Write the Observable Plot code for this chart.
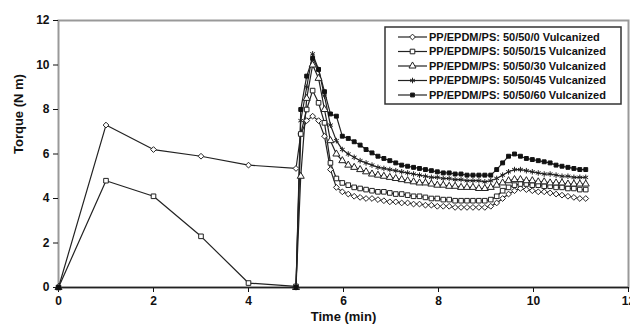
<!DOCTYPE html>
<html>
<head>
<meta charset="utf-8">
<script src="https://cdn.jsdelivr.net/npm/d3@7"></script>
<script src="https://cdn.jsdelivr.net/npm/@observablehq/plot@0.6"></script>
<style>
  html, body { margin: 0; padding: 0; background: #fff; }
  #chart svg { display: block; }
</style>
</head>
<body>
<div id="chart"></div>
<script>
const seriesNames = [
  "PP/EPDM/PS: 50/50/0 Vulcanized",
  "PP/EPDM/PS: 50/50/15 Vulcanized",
  "PP/EPDM/PS: 50/50/30 Vulcanized",
  "PP/EPDM/PS: 50/50/45 Vulcanized",
  "PP/EPDM/PS: 50/50/60 Vulcanized"
];
const xTicks = [0, 2, 4, 6, 8, 10, 12];
const yTicks = [0, 2, 4, 6, 8, 10, 12];

// mixing stage (min 0-5)
const preTimes = [0, 1, 2, 3, 4, 5];
const pre0  = [0, 7.3, 6.2, 5.9, 5.5, 5.35];
const pre15 = [0, 4.8, 4.1, 2.3, 0.2, 0.05];
const pre30 = [0, null, null, null, null, 0];
const pre45 = [0, null, null, null, null, 0];
const pre60 = [0, null, null, null, null, 0];

// vulcanization stage (after 5 min)
const tailTimes = [5.1, 5.225, 5.35, 5.475, 5.6, 5.725, 5.85, 5.975, 6.1, 6.225,
  6.35, 6.475, 6.6, 6.725, 6.85, 6.975, 7.1, 7.225, 7.35, 7.475,
  7.6, 7.725, 7.85, 7.975, 8.1, 8.225, 8.35, 8.475, 8.6, 8.725,
  8.85, 8.975, 9.1, 9.225, 9.35, 9.475, 9.6, 9.725, 9.85, 9.975,
  10.1, 10.225, 10.35, 10.475, 10.6, 10.725, 10.85, 10.975, 11.1];
const tail0 = [6.9, 7.5, 7.7, 7.5, 6.8, 5.3, 4.5, 4.3, 4.2, 4.1,
  4.05, 4.0, 4.0, 3.95, 3.9, 3.85, 3.85, 3.8, 3.8, 3.75,
  3.75, 3.7, 3.7, 3.65, 3.65, 3.65, 3.6, 3.6, 3.6, 3.6,
  3.6, 3.6, 3.65, 3.8, 4.0, 4.2, 4.35, 4.45, 4.4, 4.35,
  4.3, 4.3, 4.25, 4.2, 4.15, 4.1, 4.05, 4.0, 4.0];
const tail15 = [6.9, 8.0, 8.85, 8.3, 7.4, 5.6, 4.9, 4.7, 4.6, 4.5,
  4.45, 4.4, 4.35, 4.3, 4.3, 4.25, 4.2, 4.2, 4.15, 4.1,
  4.1, 4.05, 4.0, 4.0, 3.95, 3.95, 3.9, 3.9, 3.9, 3.9,
  3.9, 3.9, 3.95, 4.1, 4.35, 4.5, 4.6, 4.65, 4.65, 4.6,
  4.6, 4.55, 4.55, 4.5, 4.5, 4.45, 4.45, 4.4, 4.4];
const tail30 = [5.0, 8.5, 10.0, 9.4, 8.0, 6.6, 6.0, 5.7, 5.5, 5.4,
  5.3, 5.2, 5.1, 5.05, 5.0, 4.95, 4.9, 4.85, 4.8, 4.75,
  4.7, 4.7, 4.65, 4.6, 4.6, 4.55, 4.55, 4.5, 4.5, 4.5,
  4.45, 4.45, 4.5, 4.6, 4.7, 4.8, 4.85, 4.85, 4.8, 4.8,
  4.75, 4.75, 4.7, 4.7, 4.7, 4.65, 4.65, 4.65, 4.65];
const tail45 = [7.5, 9.0, 10.5, 9.8, 8.6, 7.3, 6.6, 6.2, 6.0, 5.85,
  5.7, 5.6, 5.5, 5.4, 5.35, 5.3, 5.25, 5.2, 5.15, 5.1,
  5.05, 5.0, 4.95, 4.95, 4.9, 4.9, 4.85, 4.85, 4.8, 4.8,
  4.8, 4.75, 4.8, 4.9, 5.05, 5.2, 5.3, 5.3, 5.25, 5.2,
  5.15, 5.1, 5.1, 5.05, 5.0, 5.0, 4.95, 4.95, 4.95];
const tail60 = [8.0, 9.5, 10.3, 9.8, 8.8, 7.8, 7.7, 6.8, 6.7, 6.55,
  6.4, 6.2, 6.05, 5.9, 5.8, 5.7, 5.6, 5.5, 5.45, 5.4,
  5.35, 5.3, 5.25, 5.2, 5.15, 5.15, 5.1, 5.1, 5.05, 5.05,
  5.05, 5.05, 5.05, 5.3, 5.6, 5.9, 6.0, 5.9, 5.8, 5.75,
  5.7, 5.65, 5.6, 5.5, 5.45, 5.4, 5.35, 5.3, 5.3];

const preVals = [pre0, pre15, pre30, pre45, pre60];
const tailVals = [tail0, tail15, tail30, tail45, tail60];
const symbols = ["diamond2", "square", "triangle", "asterisk", "square"];
const fills = ["white", "white", "white", "white", "black"];

const rows = [];
seriesNames.forEach((name, i) => {
  preTimes.forEach((t, j) => {
    if (preVals[i][j] != null) rows.push({series: name, idx: i, time: t, torque: preVals[i][j]});
  });
  tailTimes.forEach((t, j) => {
    rows.push({series: name, idx: i, time: t, torque: tailVals[i][j]});
  });
});

const font = "'Liberation Sans', Arial, sans-serif";

const chart = Plot.plot({
  width: 630,
  height: 331,
  marginLeft: 58,
  marginRight: 2,
  marginTop: 20,
  marginBottom: 44,
  style: {fontFamily: font, fontSize: "12px", fontWeight: "bold", background: "white", color: "#111"},
  x: {domain: [0, 12], label: null},
  y: {domain: [0, 12], label: null},
  symbol: {domain: seriesNames, range: symbols},
  marks: [
    Plot.frame({stroke: "#999", strokeWidth: 2}),
    Plot.axisX({ticks: xTicks, tickSize: 5, tickPadding: 4, label: null, fontSize: 12}),
    Plot.axisY({ticks: yTicks, tickSize: 5, tickPadding: 4, label: null, fontSize: 12}),
    Plot.ruleY([0], {stroke: "#222", strokeWidth: 1.5}),
    Plot.line(rows, {x: "time", y: "torque", z: "series", stroke: "#222", strokeWidth: 1.2}),
    Plot.dot(rows.filter(d => d.idx < 4), {x: "time", y: "torque", symbol: "series", r: 2.6, fill: "white", stroke: "#222", strokeWidth: 1}),
    Plot.dot(rows.filter(d => d.idx === 4), {x: "time", y: "torque", symbol: "series", r: 2.2, fill: "#111", stroke: "#111", strokeWidth: 1}),
    Plot.text(["Time (min)"], {frameAnchor: "bottom", dy: 33, fontSize: 13, fontWeight: "bold"}),
    Plot.text(["Torque (N m)"], {frameAnchor: "left", dx: -40, rotate: -90, fontSize: 13, fontWeight: "bold"})
  ]
});

document.getElementById("chart").appendChild(chart);

// legend box inside the plot, top right
const svgEl = chart.tagName.toLowerCase() === "svg" ? chart : chart.querySelector("svg");
const svg = d3.select(svgEl);
const lg = svg.append("g").attr("transform", "translate(385,27)").attr("text-anchor", "start");
lg.append("rect").attr("x", 0).attr("y", 0).attr("width", 236).attr("height", 77)
  .style("fill", "white").style("stroke", "#333").style("stroke-width", "1.5px");
const symMap = {diamond2: d3.symbolDiamond2, square: d3.symbolSquare, triangle: d3.symbolTriangle, asterisk: d3.symbolAsterisk};
seriesNames.forEach((name, i) => {
  const yy = 10 + i * 14.5;
  lg.append("line").attr("x1", 13).attr("x2", 42).attr("y1", yy).attr("y2", yy)
    .style("stroke", "#222").style("stroke-width", "1.2px");
  const r = i === 4 ? 2.2 : 2.6;
  lg.append("path")
    .attr("d", d3.symbol(symMap[symbols[i]], Math.PI * r * r)())
    .attr("transform", `translate(27.5,${yy})`)
    .style("fill", fills[i] === "black" ? "#111" : "white")
    .style("stroke", "#222").style("stroke-width", "1px");
  lg.append("text").attr("x", 44).attr("y", yy).attr("dy", "0.36em")
    .attr("text-anchor", "start")
    .style("font-family", font).style("font-size", "11px").style("font-weight", "bold")
    .style("fill", "#111").text(name);
});
</script>
</body>
</html>
